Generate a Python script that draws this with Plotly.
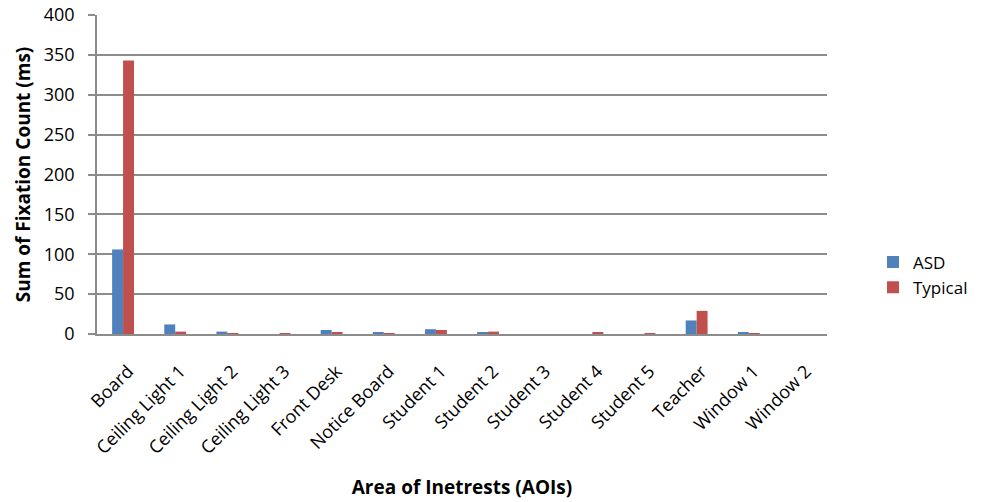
import plotly.graph_objects as go

categories = ["Board", "Ceiling Light 1", "Ceiling Light 2", "Ceiling Light 3",
              "Front Desk", "Notice Board", "Student 1", "Student 2", "Student 3",
              "Student 4", "Student 5", "Teacher", "Window 1", "Window 2"]
asd = [106, 12, 3, 0, 5, 2, 6, 2, 0, 0, 0, 17, 2, 0]
typical = [343, 3, 0.5, 0.5, 2, 0.5, 5, 3, 0, 2, 0.5, 29, 0.5, 0]
y_ticks = [0, 50, 100, 150, 200, 250, 300, 350, 400]

FONT = "Open Sans"
AXIS_GREY = "#8c8c8c"

fig = go.Figure()
fig.add_trace(go.Bar(name="ASD", x=categories, y=asd, marker_color="#4F81BD",
                     marker_line_width=0))
fig.add_trace(go.Bar(name="Typical", x=categories, y=typical, marker_color="#C0504D",
                     marker_line_width=0))

fig.update_layout(
    width=993, height=502,
    margin=dict(l=97, r=166, t=15, b=168, autoexpand=False),
    paper_bgcolor="white", plot_bgcolor="white",
    barmode="group", bargap=0.58, bargroupgap=0,
    font=dict(family=FONT, size=15, color="black"),
    legend=dict(x=1.063, y=(334 - 275) / 319, xanchor="left", yanchor="middle",
                font=dict(size=17), itemwidth=30, bgcolor="rgba(0,0,0,0)"),
    showlegend=True,
)
fig.update_yaxes(
    range=[0, 400], tickvals=y_ticks, showgrid=True, gridcolor=AXIS_GREY, gridwidth=1.5,
    showline=True, linecolor=AXIS_GREY, linewidth=1.5, ticks="outside", ticklen=7,
    tickcolor=AXIS_GREY, tickwidth=1.5, tickfont=dict(size=18), zeroline=False,
    ticklabelstandoff=10, automargin=False,
    title=dict(text="<b>Sum of Fixation Count (ms)</b>", font=dict(size=19), standoff=8),
)
fig.update_xaxes(
    showline=True, linecolor=AXIS_GREY, linewidth=1.5, tickangle=-45,
    tickfont=dict(size=18), ticks="", ticklabelstandoff=18, ticklabelshift=5,
    automargin=False,
    title=dict(text="<b>Area of Inetrests (AOIs)</b>", font=dict(size=19), standoff=23),
)

fig.write_html("out.html")
